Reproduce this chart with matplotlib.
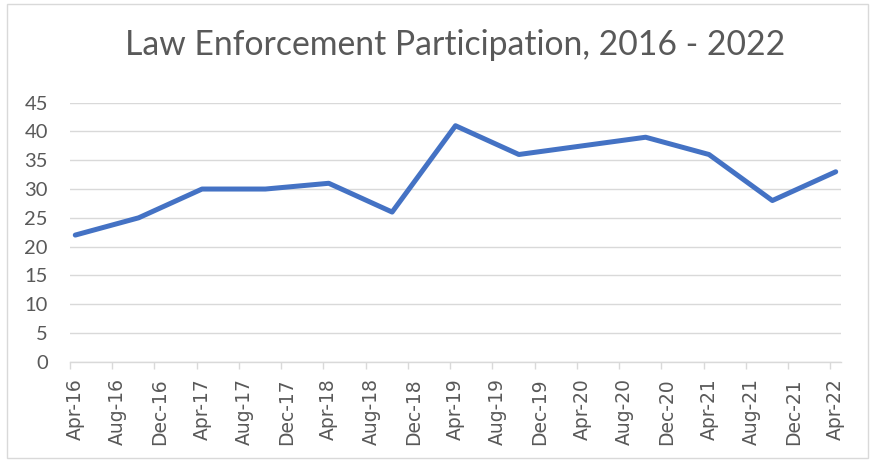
import matplotlib.pyplot as plt
import pandas as pd
from matplotlib.patches import Rectangle

# Semi-annual survey points (month the count was taken) and participation counts
periods = ["2016-04", "2016-10", "2017-04", "2017-10", "2018-04", "2018-10",
           "2019-04", "2019-10", "2020-10", "2021-04", "2021-10", "2022-04"]
participation = [22, 25, 30, 30, 31, 26, 41, 36, 39, 36, 28, 33]

axis_start = "2016-04"
axis_end = "2022-04"
tick_step_months = 4
y_ticks = [0, 5, 10, 15, 20, 25, 30, 35, 40, 45]

TITLE = "Law Enforcement Participation, 2016 - 2022"
LINE_COLOR = "#4472C4"
GRID_COLOR = "#D9D9D9"
TEXT_COLOR = "#595959"

plt.rcParams["font.family"] = ["Lato", "DejaVu Sans"]

start = pd.Period(axis_start, freq="M")
end = pd.Period(axis_end, freq="M")


def month_offset(p):
    return (pd.Period(p, freq="M") - start).n


# Excel date axis: each month is one slot, points sit mid-slot
x = [month_offset(p) + 0.5 for p in periods]
n_months = month_offset(axis_end) + 1
label_periods = pd.period_range(start, end, freq="M")[::tick_step_months]
label_pos = [month_offset(str(p)) for p in label_periods]

fig = plt.figure(figsize=(8.72, 4.62), dpi=100)
ax = fig.add_axes([70 / 872, 1 - 361.7 / 462, 771 / 872, 259 / 462])

ax.plot(x, participation, color=LINE_COLOR, linewidth=3.6,
        solid_capstyle="round", solid_joinstyle="round", zorder=3)

ax.set_xlim(0, n_months)
ax.set_ylim(0, 45)
ax.set_yticks(y_ticks)
ax.grid(True, axis="y", color=GRID_COLOR, linewidth=1.0, zorder=0)

# tick marks at slot boundaries, labels centred on the month slot
ax.set_xticks(label_pos)
ax.set_xticklabels([])
ax.set_xticks([p + 0.5 for p in label_pos], minor=True)
ax.set_xticklabels([p.strftime("%b-%y") for p in label_periods], minor=True,
                   rotation=90, fontsize=13.5, color=TEXT_COLOR,
                   family=["DejaVu Sans"])
ax.tick_params(axis="x", which="major", length=5, color=GRID_COLOR, width=1)
ax.tick_params(axis="x", which="minor", length=0, pad=12)
ax.tick_params(axis="y", length=0, pad=16, labelsize=14.5, labelcolor=TEXT_COLOR)

for side in ("left", "right", "top"):
    ax.spines[side].set_visible(False)
ax.spines["bottom"].set_color(GRID_COLOR)
ax.spines["bottom"].set_linewidth(1.0)

fig.text(455.5 / 872, 1 - 45 / 462, TITLE, ha="center", va="center",
         fontsize=24.3, color=TEXT_COLOR)

fig.patches.append(Rectangle((6.5 / 872, 4 / 462), 861 / 872, 454 / 462,
                             transform=fig.transFigure, fill=False,
                             edgecolor=GRID_COLOR, linewidth=1.0))

fig.savefig("out.png", dpi=100)
